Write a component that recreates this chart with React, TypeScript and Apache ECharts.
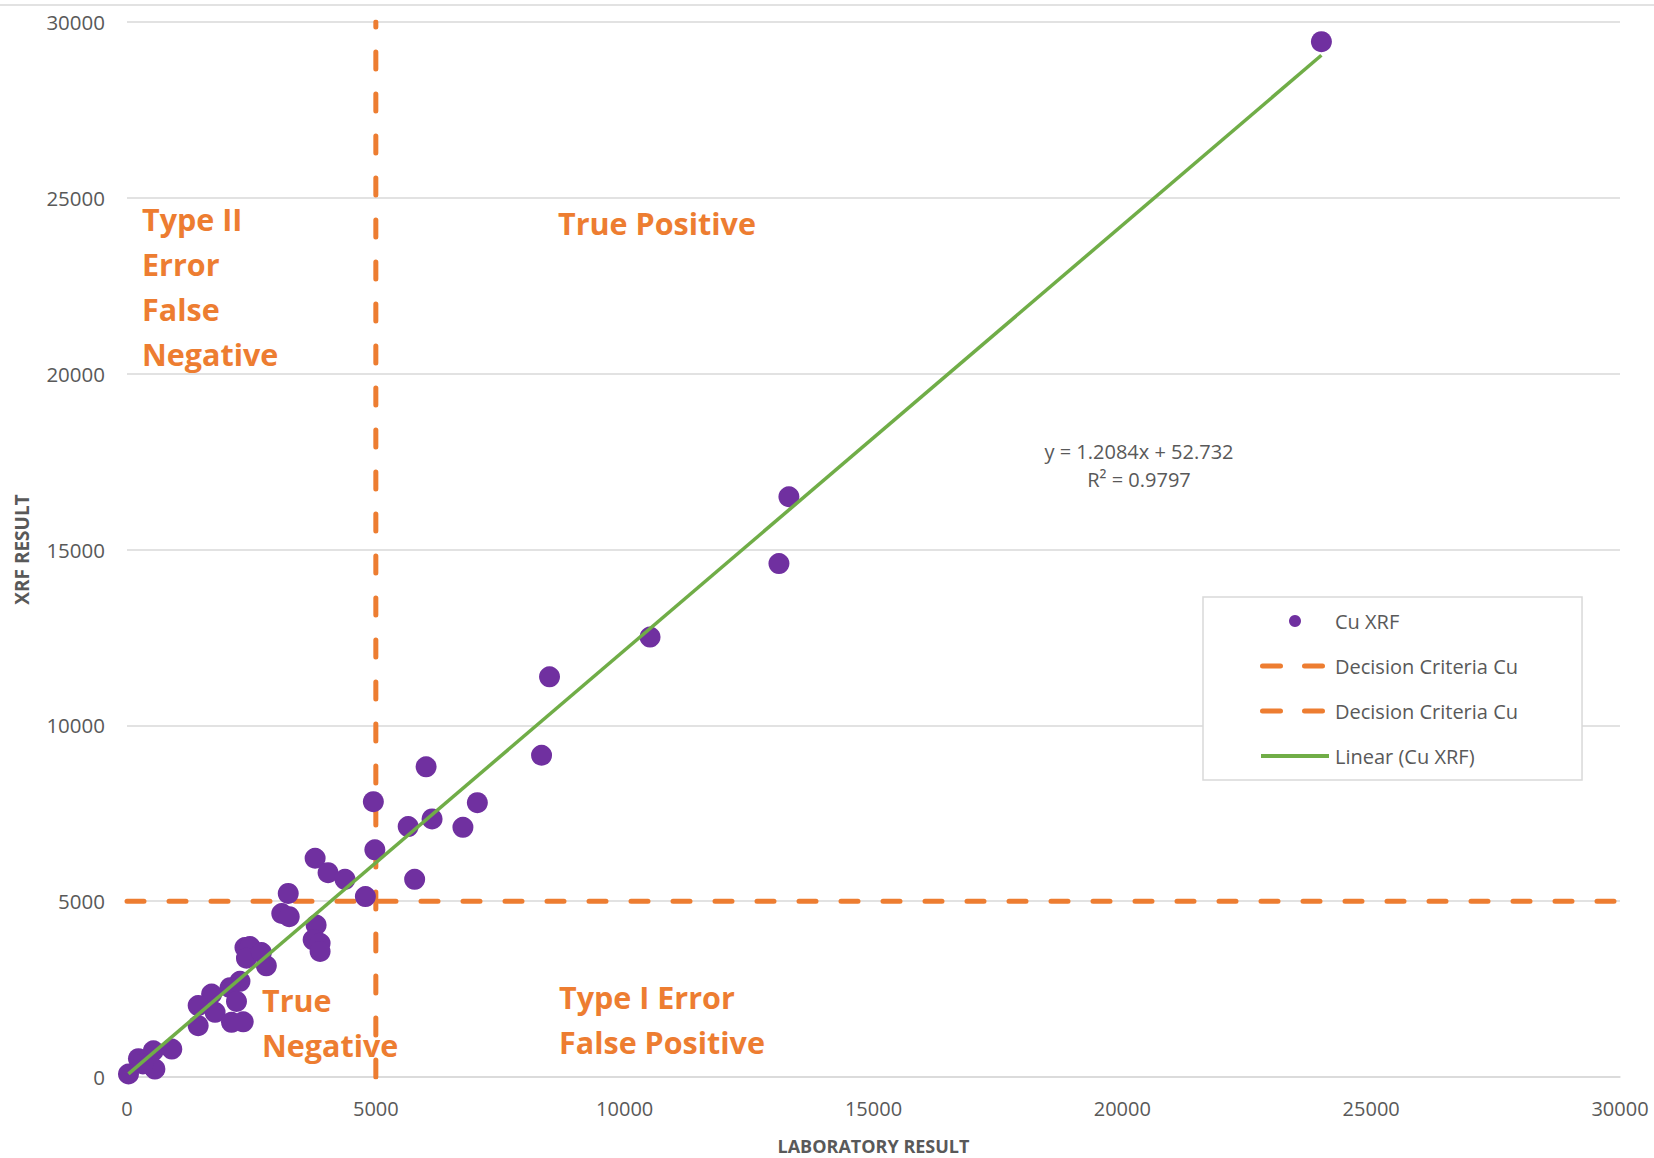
import React, { useEffect, useRef } from "react";
import * as echarts from "echarts";

const labResult = [
  24000, 13300, 13100, 10510, 8490, 8330, 6010, 4950, 7040, 5650, 6130, 6750,
  4980, 5780, 4790, 3780, 4040, 4380, 3240, 3110, 3260, 3800, 3740, 3880, 3880,
  2370, 2470, 2400, 2700, 2800, 2270, 2070, 1700, 1430, 2200, 1770, 1430, 2100,
  2335, 900, 530, 230, 560, 30, 320,
];
const xrfResult = [
  29440, 16500, 14600, 12510, 11380, 9150, 8820, 7830, 7800, 7120, 7340, 7100,
  6460, 5620, 5130, 6220, 5810, 5620, 5220, 4650, 4560, 4320, 3900, 3800, 3570,
  3680, 3710, 3380, 3540, 3160, 2720, 2540, 2360, 2030, 2150, 1840, 1460, 1555,
  1570, 795, 745, 520, 225, 85, 370,
];

const decisionX = [[5000, 0], [5000, 30000]];
const decisionY = [[0, 5000], [30000, 5000]];

const slope = 1.2084;
const intercept = 52.732;
const rSquared = 0.9797;

const quadrantLabels = [
  { text: "Type II\nError\nFalse\nNegative", x: 142, y: 196 },
  { text: "True Positive", x: 558, y: 200 },
  { text: "True\nNegative", x: 262, y: 977 },
  { text: "Type I Error\nFalse Positive", x: 559, y: 974 },
];

const FONT = "'Open Sans', 'Noto Sans', sans-serif";
const GRAY = "#595959";
const ORANGE = "#ED7D31";

const DASH_ICON =
  "path://M0,0M70,12M2.5,3.5h18a2.5,2.5 0 0 1 0,5h-18a2.5,2.5 0 0 1 0,-5zM44.5,3.5h18a2.5,2.5 0 0 1 0,5h-18a2.5,2.5 0 0 1 0,-5z";
const LINE_ICON = "path://M0,0M70,12M1,4h68v4H1z";

export default function App() {
  const ref = useRef<HTMLDivElement>(null);

  useEffect(() => {
    if (!ref.current) return;
    const chart = echarts.init(ref.current, undefined, { renderer: "svg" });
    const points = labResult.map((x, i) => [x, xrfResult[i]]);
    const minX = Math.min(...labResult);
    const maxX = Math.max(...labResult);
    const trend = [
      [minX, slope * minX + intercept],
      [maxX, slope * maxX + intercept],
    ];
    const dashStyle = {
      color: ORANGE,
      width: 5,
      type: [17, 25] as any,
      cap: "round" as const,
    };

    chart.setOption({
      animation: false,
      backgroundColor: "#ffffff",
      textStyle: { fontFamily: FONT },
      grid: {
        left: 127,
        right: 34,
        top: 22,
        bottom: 81,
        outerBoundsMode: "none",
      } as any,
      xAxis: {
        type: "value",
        min: 0,
        max: 30000,
        interval: 5000,
        name: "LABORATORY RESULT",
        nameLocation: "middle",
        nameGap: 60,
        nameTextStyle: { fontFamily: FONT, fontSize: 18, fontWeight: "bold", color: GRAY },
        axisLine: { show: true, lineStyle: { color: "#D9D9D9", width: 1.5 } },
        axisTick: { show: false },
        splitLine: { show: false },
        axisLabel: {
          color: GRAY,
          fontSize: 20,
          fontFamily: FONT,
          margin: 21,
          formatter: (v: number) => String(v),
        },
      },
      yAxis: {
        type: "value",
        min: 0,
        max: 30000,
        interval: 5000,
        name: "XRF RESULT",
        nameLocation: "middle",
        nameGap: 96,
        nameRotate: 90,
        nameTextStyle: { fontFamily: FONT, fontSize: 19, fontWeight: "bold", color: GRAY },
        axisLine: { show: false },
        axisTick: { show: false },
        splitLine: { show: true, lineStyle: { color: "#D9D9D9", width: 1.5 } },
        axisLabel: {
          color: GRAY,
          fontSize: 20.5,
          fontFamily: FONT,
          margin: 22,
          formatter: (v: number) => String(v),
        },
      },
      legend: {
        orient: "vertical",
        left: 1203,
        top: 597,
        padding: [14, 64, 14, 57],
        itemGap: 25,
        itemWidth: 70,
        itemHeight: 12,
        borderColor: "#D9D9D9",
        borderWidth: 1.5,
        backgroundColor: "#ffffff",
        textStyle: { color: GRAY, fontSize: 20, fontFamily: FONT },
        formatter: (name: string) =>
          name.startsWith("Decision Criteria Cu") ? "Decision Criteria Cu" : name,
        data: [
          { name: "Cu XRF", icon: "circle" },
          { name: "Decision Criteria Cu (x)", icon: DASH_ICON },
          { name: "Decision Criteria Cu (y)", icon: DASH_ICON },
          { name: "Linear (Cu XRF)", icon: LINE_ICON },
        ],
      },
      graphic: [
        {
          type: "line",
          shape: { x1: 0, y1: 5, x2: 1654, y2: 5 },
          style: { stroke: "#D9D9D9", lineWidth: 1.5 },
          silent: true,
        },
        ...quadrantLabels.map((q) => ({
          type: "text",
          left: q.x,
          top: q.y,
          style: {
            text: q.text,
            fill: ORANGE,
            font: `bold 30.5px ${FONT}`,
            lineHeight: 45,
          },
          silent: true,
        })),
        {
          type: "text",
          x: 1139,
          y: 437,
          style: {
            text: `y = ${slope}x + ${intercept}\nR² = ${rSquared}`,
            fill: GRAY,
            font: `20px ${FONT}`,
            align: "center",
            lineHeight: 28,
          },
          silent: true,
        },
      ],
      series: [
        {
          name: "Decision Criteria Cu (x)",
          type: "line",
          data: decisionX,
          symbol: "none",
          lineStyle: dashStyle,
          itemStyle: { color: ORANGE },
          z: 1,
        },
        {
          name: "Decision Criteria Cu (y)",
          type: "line",
          data: decisionY,
          symbol: "none",
          lineStyle: dashStyle,
          itemStyle: { color: ORANGE },
          z: 1,
        },
        {
          name: "Cu XRF",
          type: "scatter",
          data: points,
          symbolSize: 21,
          itemStyle: { color: "#7030A0", opacity: 1 },
          z: 2,
        },
        {
          name: "Linear (Cu XRF)",
          type: "line",
          data: trend,
          symbol: "none",
          lineStyle: { color: "#70AD47", width: 3.5 },
          itemStyle: { color: "#70AD47" },
          z: 3,
        },
      ],
    });
    return () => chart.dispose();
  }, []);

  return (
    <div
      ref={ref}
      style={{ position: "absolute", left: 0, top: 0, width: 1654, height: 1158 }}
    />
  );
}
